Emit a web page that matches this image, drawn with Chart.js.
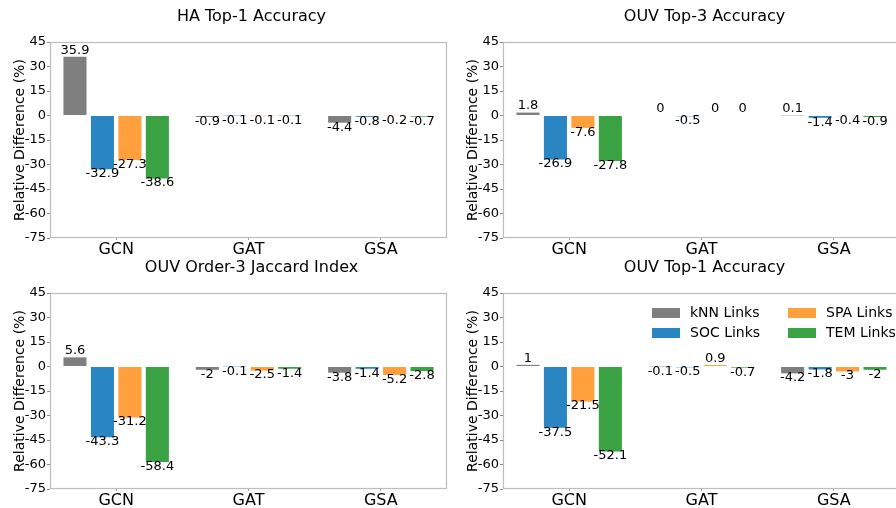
<!DOCTYPE html>
<html>
<head>
<meta charset="utf-8">
<script src="https://cdn.jsdelivr.net/npm/chart.js@4.4.1/dist/chart.umd.min.js"></script>
<style>
    html, body { margin: 0; padding: 0; background: #fff; width: 896px; height: 508px; overflow: hidden; position: relative; }
    canvas { position: absolute; }
</style>
</head>
<body>
<canvas id="haTop1Chart" width="448" height="258" style="left:0;top:0"></canvas>
<canvas id="ouvTop3Chart" width="448" height="258" style="left:453px;top:0"></canvas>
<canvas id="ouvJaccardChart" width="448" height="258" style="left:0;top:251px"></canvas>
<canvas id="ouvTop1Chart" width="448" height="258" style="left:453px;top:251px"></canvas>
<script>
const categories = ['GCN', 'GAT', 'GSA'];
const seriesNames = ['kNN Links', 'SOC Links', 'SPA Links', 'TEM Links'];
const seriesColors = ['#7f7f7f', '#2a86c3', '#ffa03c', '#3ba243'];
const yTickValues = [-75, -60, -45, -30, -15, 0, 15, 30, 45];

// HA Top-1 Accuracy
const haTop1Knn = [35.9, -0.9, -4.4];
const haTop1Soc = [-32.9, -0.1, -0.8];
const haTop1Spa = [-27.3, -0.1, -0.2];
const haTop1Tem = [-38.6, -0.1, -0.7];

// OUV Top-3 Accuracy
const ouvTop3Knn = [1.8, 0, 0.1];
const ouvTop3Soc = [-26.9, -0.5, -1.4];
const ouvTop3Spa = [-7.6, 0, -0.4];
const ouvTop3Tem = [-27.8, 0, -0.9];

// OUV Order-3 Jaccard Index
const ouvJaccardKnn = [5.6, -2, -3.8];
const ouvJaccardSoc = [-43.3, -0.1, -1.4];
const ouvJaccardSpa = [-31.2, -2.5, -5.2];
const ouvJaccardTem = [-58.4, -1.4, -2.8];

// OUV Top-1 Accuracy
const ouvTop1Knn = [1, -0.1, -4.2];
const ouvTop1Soc = [-37.5, -0.5, -1.8];
const ouvTop1Spa = [-21.5, 0.9, -3];
const ouvTop1Tem = [-52.1, -0.7, -2];

const FONT = '"DejaVu Sans", sans-serif';

// frame, title, value labels and legend
const panelDecor = {
    id: 'panelDecor',
    afterDatasetsDraw(chart, args, opts) {
        const ctx = chart.ctx;
        const a = chart.chartArea;
        ctx.save();
        ctx.strokeStyle = '#bdbdbd';
        ctx.lineWidth = 1.2;
        ctx.strokeRect(a.left + 0.5, a.top + 0.5, a.right - a.left - 1, a.bottom - a.top - 1);

        ctx.fillStyle = '#000';
        ctx.textAlign = 'center';
        ctx.font = '13px ' + FONT;
        chart.data.datasets.forEach((ds, i) => {
            chart.getDatasetMeta(i).data.forEach((bar, j) => {
                const v = ds.data[j];
                if (v >= 0) {
                    ctx.textBaseline = 'bottom';
                    ctx.fillText(String(v), bar.x, bar.y);
                } else {
                    ctx.textBaseline = 'top';
                    ctx.fillText(String(v), bar.x, bar.y - 2);
                }
            });
        });

        ctx.font = '16px ' + FONT;
        ctx.textBaseline = 'middle';
        ctx.fillText(opts.title, (a.left + a.right) / 2 + 3, 17);

        if (opts.legend) {
            // two columns: kNN / SOC on the left, SPA / TEM on the right
            const pos = [[0, 0], [0, 1], [1, 0], [1, 1]];
            ctx.font = '14px ' + FONT;
            ctx.textAlign = 'left';
            chart.data.datasets.forEach((ds, i) => {
                const x = a.left + 149 + pos[i][0] * 136;
                const y = a.top + 20 + pos[i][1] * 20;
                ctx.fillStyle = ds.backgroundColor;
                ctx.fillRect(x, y - 5, 28, 10);
                ctx.fillStyle = '#000';
                ctx.fillText(ds.label, x + 38, y);
            });
        }
        ctx.restore();
    }
};

function createPanel(canvasId, title, seriesData, showLegend) {
    const ctx = document.getElementById(canvasId).getContext('2d');
    return new Chart(ctx, {
        type: 'bar',
        data: {
            labels: categories,
            datasets: seriesData.map((d, i) => ({
                label: seriesNames[i],
                data: d,
                backgroundColor: seriesColors[i],
                borderWidth: 0,
                barPercentage: 0.84,
                categoryPercentage: 0.83
            }))
        },
        options: {
            responsive: false,
            animation: false,
            layout: { padding: { top: 42, right: 1, left: 0, bottom: 0 } },
            scales: {
                x: {
                    grid: { drawOnChartArea: false, drawTicks: true, tickLength: 2, offset: false, color: '#999' },
                    border: { display: false },
                    ticks: { color: '#000', font: { size: 16, family: FONT }, padding: 0, maxRotation: 0 },
                    afterFit(s) { s.height = 20; }
                },
                y: {
                    min: -75,
                    max: 45,
                    afterBuildTicks(s) { s.ticks = yTickValues.map(v => ({ value: v })); },
                    grid: { drawOnChartArea: false, drawTicks: true, tickLength: 3, color: '#888' },
                    border: { display: false },
                    ticks: { color: '#000', font: { size: 13, family: FONT }, padding: 1 },
                    title: {
                        display: true,
                        text: 'Relative Difference (%)',
                        color: '#000',
                        font: { size: 14, family: FONT },
                        padding: { top: 12, bottom: 0 }
                    },
                    afterFit(s) { s.width = 50; }
                }
            },
            plugins: {
                legend: { display: false },
                tooltip: { enabled: false },
                panelDecor: { title: title, legend: showLegend }
            }
        },
        plugins: [panelDecor]
    });
}

createPanel('haTop1Chart', 'HA Top-1 Accuracy', [haTop1Knn, haTop1Soc, haTop1Spa, haTop1Tem], false);
createPanel('ouvTop3Chart', 'OUV Top-3 Accuracy', [ouvTop3Knn, ouvTop3Soc, ouvTop3Spa, ouvTop3Tem], false);
createPanel('ouvJaccardChart', 'OUV Order-3 Jaccard Index', [ouvJaccardKnn, ouvJaccardSoc, ouvJaccardSpa, ouvJaccardTem], false);
createPanel('ouvTop1Chart', 'OUV Top-1 Accuracy', [ouvTop1Knn, ouvTop1Soc, ouvTop1Spa, ouvTop1Tem], true);
</script>
</body>
</html>
